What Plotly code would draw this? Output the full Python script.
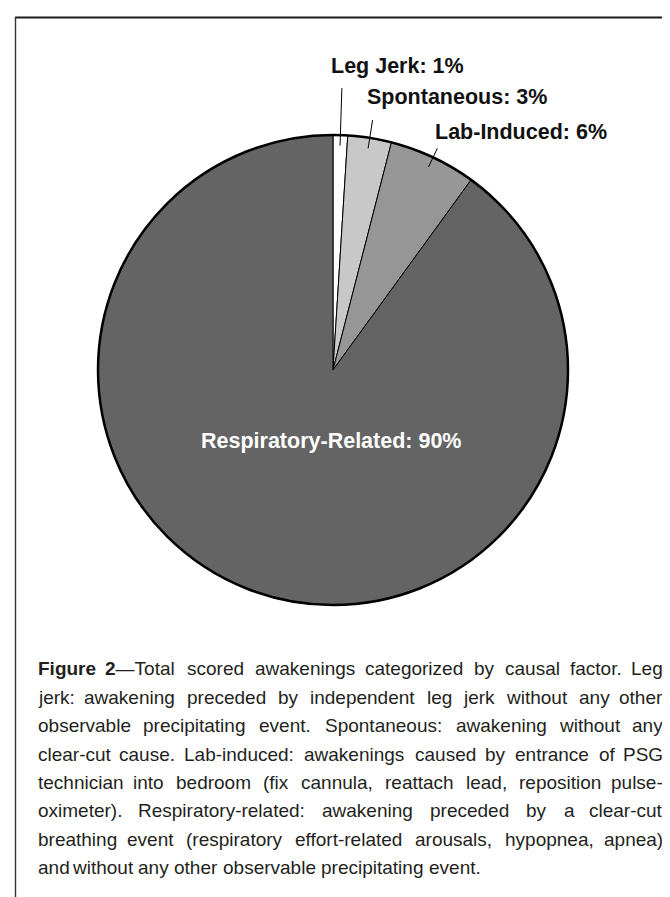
import math
import plotly.graph_objects as go

# ---------------- data ----------------
categories = ["Leg Jerk", "Spontaneous", "Lab-Induced", "Respiratory-Related"]
values = [1, 3, 6, 90]
slice_colors = ["#ffffff", "#c8c8c8", "#969696", "#646464"]

caption_lines = [
    "<b>Figure</b> <b>2</b>—Total scored awakenings categorized by causal factor. Leg",
    "jerk: awakening preceded by independent leg jerk without any other",
    "observable precipitating event. Spontaneous: awakening without any",
    "clear-cut cause. Lab-induced: awakenings caused by entrance of PSG",
    "technician into bedroom (fix cannula, reattach lead, reposition pulse-",
    "oximeter). Respiratory-related: awakening preceded by a clear-cut",
    "breathing event (respiratory effort-related arousals, hypopnea, apnea)",
    "and without any other observable precipitating event.",
]

# ---------------- layout constants ----------------
W, H = 670, 897
CX, CY, R = 325, 362, 235
FONT = "Liberation Sans, Arial, sans-serif"
LABEL_SIZE = 21.5
CAP_SIZE = 19

fig = go.Figure()

dom_x = [(CX - R) / W, (CX + R) / W]
dom_y = [(H - CY - R) / H, (H - CY + R) / H]

fig.add_trace(go.Pie(
    labels=categories, values=values, sort=False, direction="clockwise",
    rotation=0, marker=dict(colors=slice_colors, line=dict(color="#000000", width=1)),
    textinfo="none", hoverinfo="skip", showlegend=False,
    domain=dict(x=dom_x, y=dom_y),
))
# outer rim (thicker)
fig.add_trace(go.Pie(
    labels=["rim"], values=[sum(values)], sort=False,
    marker=dict(colors=["rgba(0,0,0,0)"], line=dict(color="#000000", width=2.5)),
    textinfo="none", hoverinfo="skip", showlegend=False,
    domain=dict(x=dom_x, y=dom_y),
))

# leader lines + outside labels
total = sum(values)
cum = 0
mids = []
for v in values:
    mids.append((cum + v / 2) / total * 2 * math.pi)
    cum += v

leader_outer = [1.20, 1.077, 1.043]
leader_inner = 0.955
label_pos = [(321, 58), (357, 89), (425, 124)]
shapes = []
annotations = []
for i in range(3):
    th = mids[i]
    x0 = CX + R * leader_outer[i] * math.sin(th)
    y0 = CY - R * leader_outer[i] * math.cos(th)
    x1 = CX + R * leader_inner * math.sin(th)
    y1 = CY - R * leader_inner * math.cos(th)
    shapes.append(dict(type="line", xref="x", yref="y", x0=x0, y0=y0, x1=x1, y1=y1,
                       line=dict(color="#000000", width=1)))
    annotations.append(dict(
        x=label_pos[i][0], y=label_pos[i][1], xref="x", yref="y",
        xanchor="left", yanchor="middle", showarrow=False,
        text=f"<b>{categories[i]}: {values[i]}%</b>",
        font=dict(family=FONT, size=LABEL_SIZE, color="#111111")))

annotations.append(dict(
    x=323, y=433, xref="x", yref="y", xanchor="center", yanchor="middle",
    showarrow=False, text=f"<b>{categories[3]}: {values[3]}%</b>",
    font=dict(family=FONT, size=LABEL_SIZE, color="#ffffff")))

# border
shapes.append(dict(type="line", xref="x", yref="y", x0=7, y0=9.5, x1=W, y1=9.5,
                   line=dict(color="#1a1a1a", width=2.2)))
shapes.append(dict(type="line", xref="x", yref="y", x0=7.5, y0=9, x1=7.5, y1=H,
                   line=dict(color="#333333", width=1.4)))

# ---------------- justified caption ----------------
AW = {' ': 278, '!': 278, '(': 333, ')': 333, ',': 278, '-': 333, '.': 278, ':': 278,
      '—': 1000, '%': 889}
for ch in "0123456789":
    AW[ch] = 556
AW.update(dict(A=667, B=667, C=722, D=722, E=667, F=611, G=778, H=722, I=278, J=500,
               K=667, L=556, M=833, N=722, O=778, P=667, Q=778, R=722, S=667, T=611,
               U=722, V=667, W=944, X=667, Y=667, Z=611,
               a=556, b=556, c=500, d=556, e=556, f=278, g=556, h=556, i=222, j=222,
               k=500, l=222, m=833, n=556, o=556, p=556, q=556, r=333, s=500, t=278,
               u=556, v=500, w=722, x=500, y=500, z=500))
BW = dict(F=611, i=278, g=611, u=611, r=389, e=556)


def word_width(word, size):
    bold = False
    w = 0.0
    k = 0
    while k < len(word):
        if word.startswith("<b>", k):
            bold = True; k += 3; continue
        if word.startswith("</b>", k):
            bold = False; k += 4; continue
        ch = word[k]
        cw = BW.get(ch, AW.get(ch, 556)) if bold else AW.get(ch, 556)
        w += cw
        k += 1
    return w / 1000 * size


X0, X1 = 28, 657
BASE0, STEP = 667, 28.4
for li, line in enumerate(caption_lines):
    yb = BASE0 + STEP * li
    ym = yb - 0.32 * CAP_SIZE
    words = line.split(" ")
    last = li == len(caption_lines) - 1
    widths = [word_width(w, CAP_SIZE) for w in words]
    if last:
        gap = word_width(" ", CAP_SIZE)
    else:
        gap = (X1 - X0 - sum(widths)) / (len(words) - 1)
    x = X0
    for wi, (w, ww) in enumerate(zip(words, widths)):
        if wi == 0:
            xa, xpos = "left", X0
        elif wi == len(words) - 1 and not last:
            xa, xpos = "right", X1
        else:
            xa, xpos = "center", x + ww / 2
        annotations.append(dict(
            x=xpos, y=ym, xref="x", yref="y", xanchor=xa, yanchor="middle",
            showarrow=False, text=w,
            font=dict(family=FONT, size=CAP_SIZE, color="#231f20")))
        x += ww + gap

fig.update_layout(
    width=W, height=H, margin=dict(l=0, r=0, t=0, b=0),
    paper_bgcolor="#ffffff", plot_bgcolor="rgba(0,0,0,0)",
    xaxis=dict(range=[0, W], visible=False, domain=[0, 1], fixedrange=True),
    yaxis=dict(range=[H, 0], visible=False, domain=[0, 1], fixedrange=True),
    shapes=shapes, annotations=annotations,
)

fig.write_html("out.html")
